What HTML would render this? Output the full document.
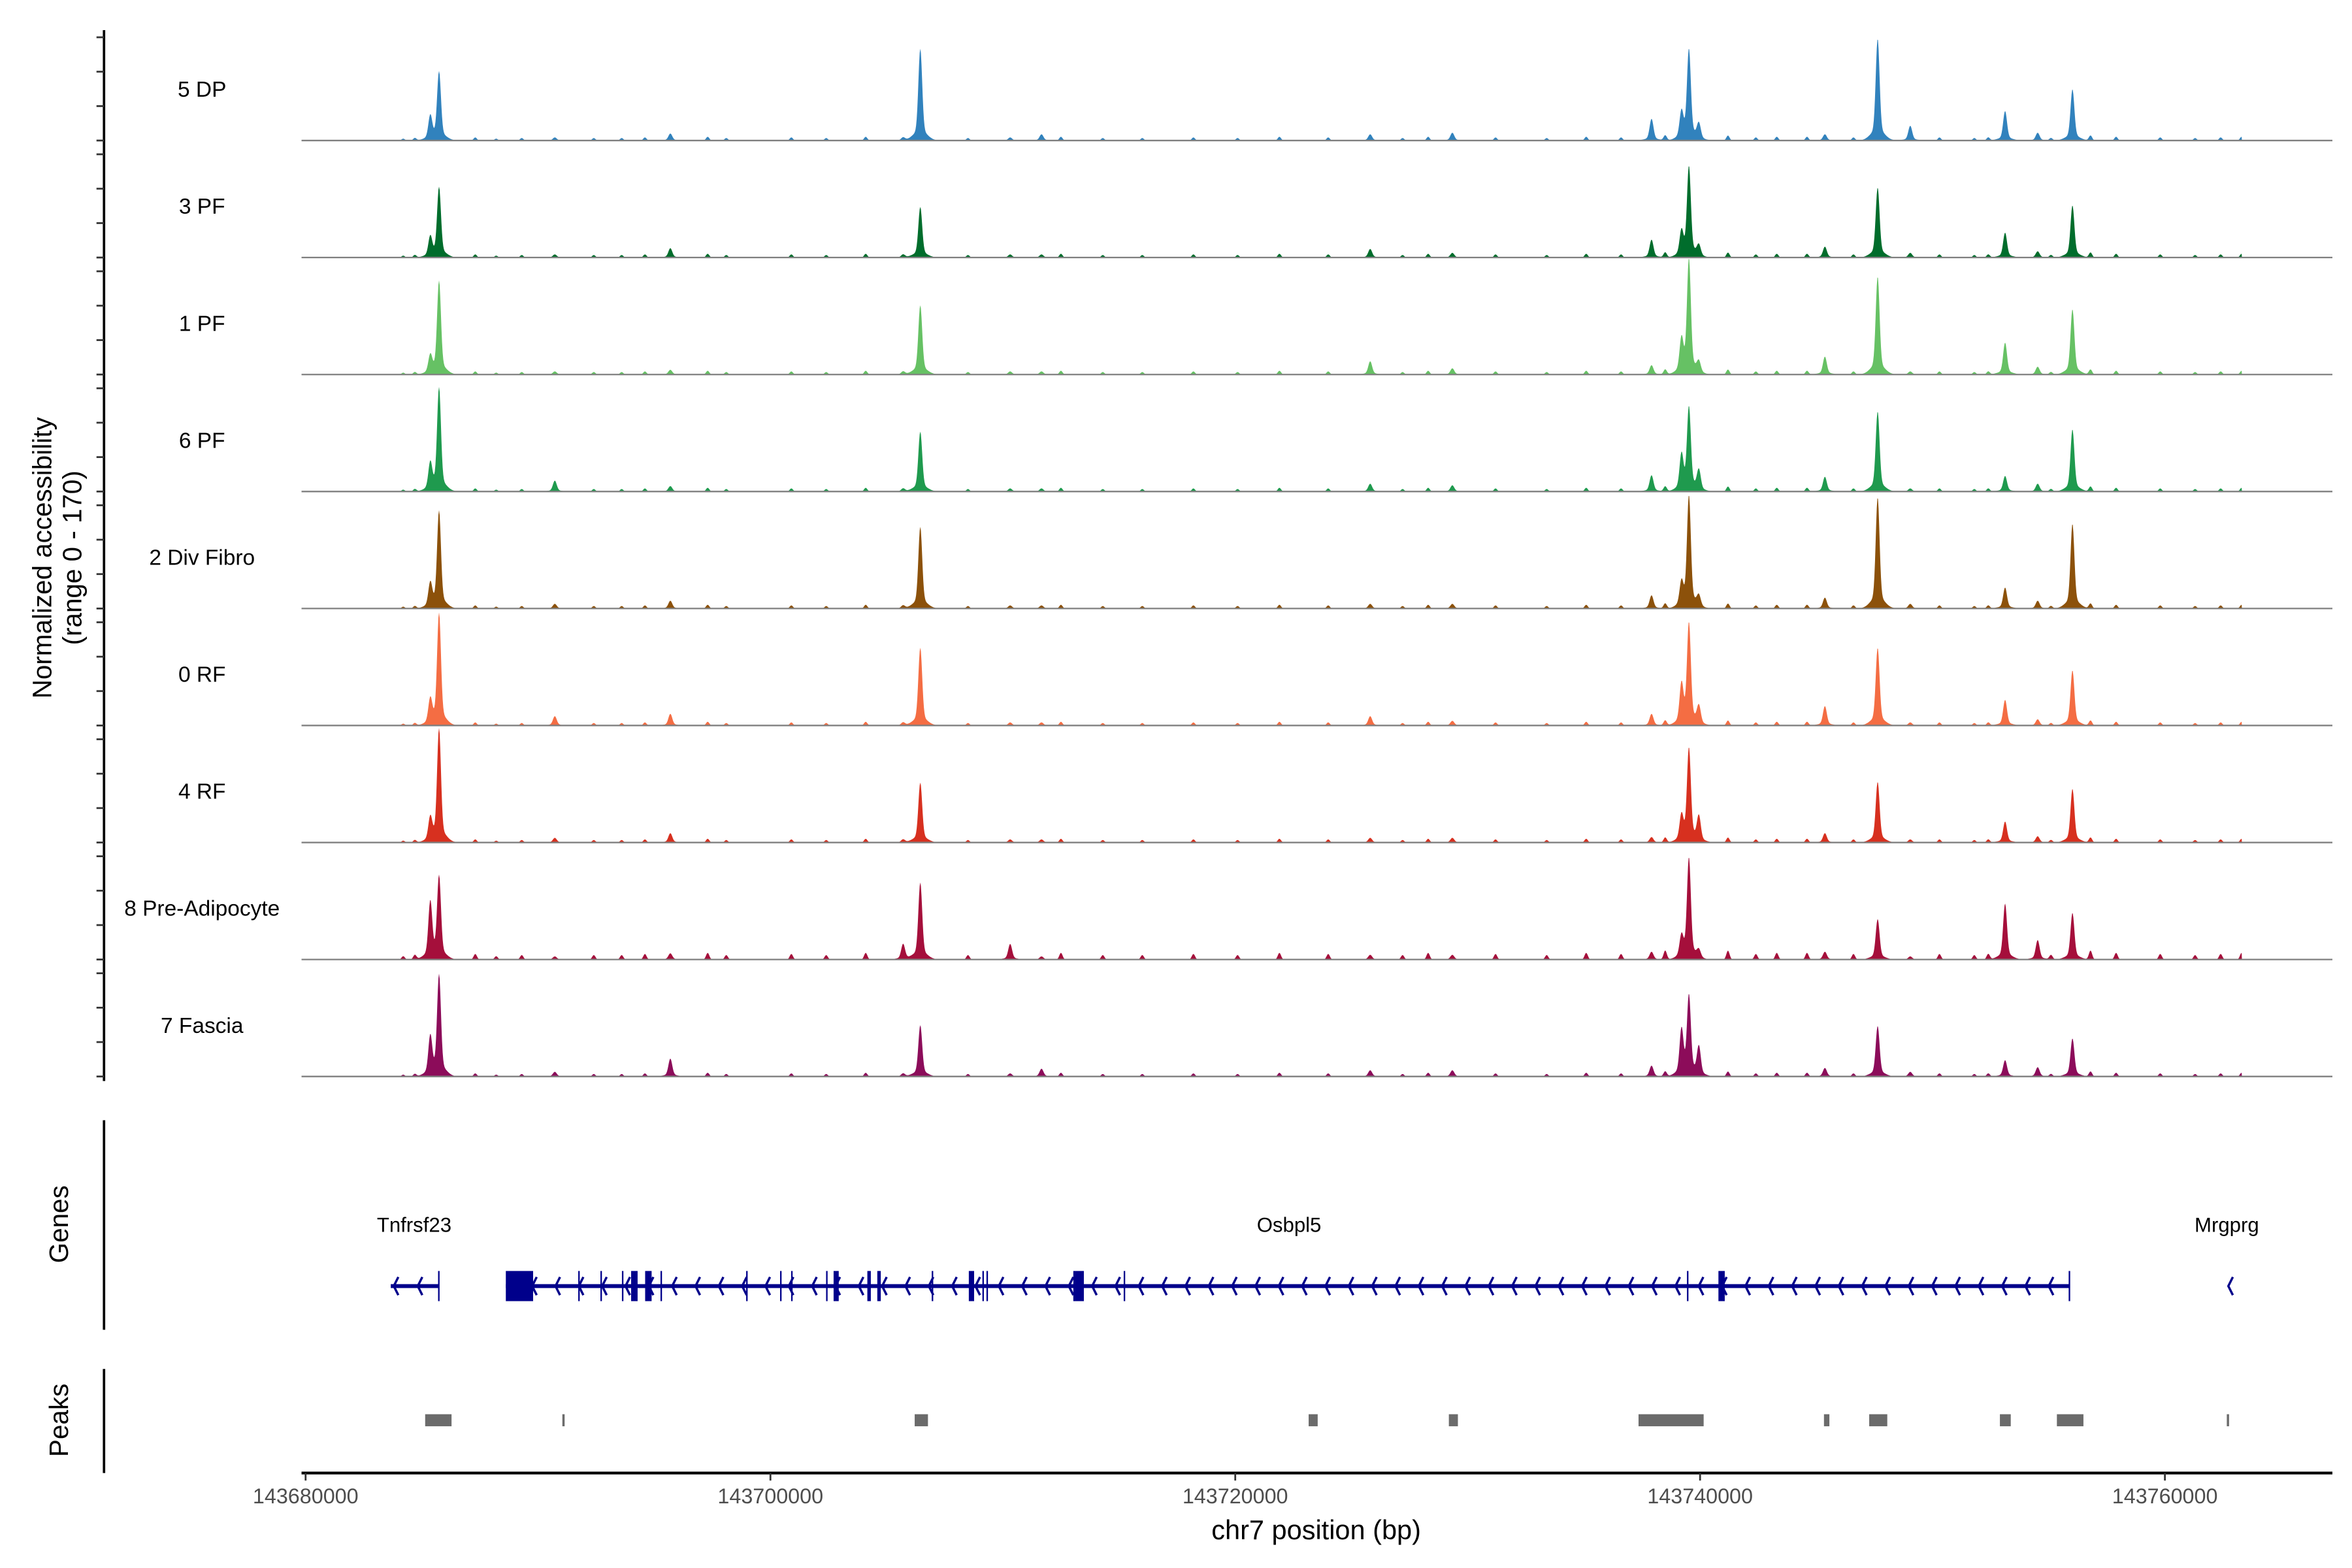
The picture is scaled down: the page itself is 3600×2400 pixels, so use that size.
<!DOCTYPE html>
<html><head><meta charset="utf-8"><style>
html,body{margin:0;padding:0;background:#fff;}
svg{display:block;font-family:"Liberation Sans",Arial,sans-serif;}
</style></head><body>
<svg id="chart" width="3600" height="2400" viewBox="0 0 1560 1040" xmlns="http://www.w3.org/2000/svg">
<rect width="1560" height="1040" fill="#fff"/>
<g id="tracks"></g>
<g id="leftaxis"></g>
<text transform="translate(34,370) rotate(-90)" text-anchor="middle" font-size="17.5">Normalized accessibility</text>
<text transform="translate(54,370) rotate(-90)" text-anchor="middle" font-size="17.5">(range 0 - 170)</text>
<line x1="69" y1="743" x2="69" y2="882" stroke="#000" stroke-width="1.6"/>
<text transform="translate(45,812) rotate(-90)" text-anchor="middle" font-size="17.5">Genes</text>
<line x1="69" y1="908" x2="69" y2="977" stroke="#000" stroke-width="1.6"/>
<text transform="translate(45,942) rotate(-90)" text-anchor="middle" font-size="17.5">Peaks</text>
<g id="genes"></g>
<g id="peaks"></g>
<g id="xaxis"></g>
<text x="873" y="1021" text-anchor="middle" font-size="18">chr7 position (bp)</text>
</svg>
<script>
const NS="http://www.w3.org/2000/svg";
// ---- data ----
const trackNames=["5 DP","3 PF","1 PF","6 PF","2 Div Fibro","0 RF","4 RF","8 Pre-Adipocyte","7 Fascia"];
const trackColors=["#3182bd","#006d2c","#66c164","#1f9a4e","#8c510a","#f46d43","#d7301f","#a50f3b","#8c0c5a"];
// peak centres (bp)
const peakPos=[143685365,143685741,143690723,143695693,143705709,143706448,143710315,143711664,143725806,143729341,143737912,143739203,143739520,143739948,143745371,143747641,143749043,143753124,143756023,143754526];
// peak heights per track (0-170)
const peakH=[
 [30,88,4,9,4,118,4,8,8,10,28,34,116,20,8,131,19,38,66,10],
 [25,90,4,12,4,65,4,4,11,6,23,31,116,14,14,90,6,32,67,8],
 [22,120,4,6,4,89,4,4,17,8,12,42,147,14,23,126,4,41,84,10],
 [34,133,14,7,4,77,4,4,10,8,21,45,107,26,19,103,4,20,80,10],
 [30,125,6,10,4,105,4,4,6,6,17,30,144,14,14,143,6,27,109,10],
 [31,144,12,15,4,100,4,4,12,6,15,50,130,23,25,100,4,33,71,8],
 [29,146,6,12,4,77,4,4,6,6,7,32,120,32,12,78,4,27,69,8],
 [72,106,4,8,20,99,20,4,6,6,10,27,130,10,10,52,4,72,60,25],
 [49,130,6,23,4,66,4,10,8,8,14,58,102,37,11,65,6,21,49,12]
];
// small background bumps (bp) and heights
const bgPos=[143684200,143684700,143687300,143688200,143689300,143692400,143693600,143694600,143697300,143698100,143700900,143702400,143704100,143708500,143712500,143714300,143716000,143718200,143720100,143721900,143724000,143727200,143728300,143731200,143733400,143735100,143736600,143738500,143741200,143742400,143743300,143744600,143746600,143750300,143751800,143752400,143755100,143756800,143757900,143759800,143761300,143762400,143763300,143763900];
const bgH=[3,4,5,3,4,4,4,5,6,4,5,4,6,4,6,4,4,5,4,6,5,4,6,5,4,6,5,8,8,5,6,6,5,5,4,5,4,8,6,5,4,5,6,5];
const geneNames=["Tnfrsf23","Osbpl5","Mrgprg"];
const geneStart=[143683665,143688615,143762600];
const geneEnd=[143685728,143755878,143762730];
const geneLabelPos=[143684671,143722315,143762664];
const exonStart=[143685700,143688615,143691730,143692685,143693610,143694006,143694609,143695270,143698955,143700415,143700890,143702395,143702718,143704170,143704598,143706940,143708536,143709120,143709295,143713032,143715200,143739435,143740790,143755860];
const exonEnd=[143685760,143689789,143691770,143692720,143693650,143694285,143694888,143695310,143698995,143700455,143700930,143702435,143702939,143704320,143704748,143706980,143708764,143709160,143709335,143713486,143715240,143739475,143741062,143755900];
const peakStart=[143685144,143691047,143706207,143723158,143729191,143737352,143745331,143747277,143752901,143755353,143762664];
const peakEnd=[143686279,143691145,143706778,143723547,143729580,143740154,143745564,143748055,143753368,143756495,143762761];
const xTicks=[143680000,143700000,143720000,143740000,143760000];
// ---- scales ----
const X0=143680000, PX0=202.7, PXPER=308.3/20000;
const xs=v=>PX0+(v-X0)*PXPER;
const trackTop=15.6, trackH=77.6;
const ys=(i,v)=>trackTop+(i+1)*trackH-v/170*trackH;
function mk(tag,attrs,parent){const e=document.createElementNS(NS,tag);for(const k in attrs)e.setAttribute(k,attrs[k]);parent.appendChild(e);return e;}
// ---- tracks ----
const tg=document.getElementById("tracks");
for(let i=0;i<trackNames.length;i++){
  const base=ys(i,0);
  let d=`M200,${base}`;
  for(let px=200;px<=1487;px+=0.4){
    const bp=X0+(px-PX0)/PXPER;
    let v=0;
    for(let k=0;k<peakPos.length;k++){const s=80;const z=(bp-peakPos[k])/s;v+=peakH[i][k]*Math.exp(-z*z/2);}
    for(let k=0;k<peakPos.length;k++){const s=280;const z=(bp-peakPos[k])/s;v+=peakH[i][k]*0.13*Math.exp(-z*z/2);}
    for(let k=0;k<bgPos.length;k++){const s=70;const z=(bp-bgPos[k])/s;v+=bgH[k]*(i===7?1.6:0.9)*Math.exp(-z*z/2);}
    d+=`L${px.toFixed(1)},${ys(i,Math.min(v,170)).toFixed(2)}`;
  }
  d+=`L1487,${base}Z`;
  const p=mk("path",{d:d,fill:trackColors[i]},tg);
  
  
  const bl=mk("line",{x1:200,x2:1547,y1:base,y2:base,stroke:"#7f7f7f","stroke-width":1},tg);
  
  
  const t=mk("text",{x:134,y:base-29,"text-anchor":"middle","font-size":14.5},tg);
  
  
  t.textContent=trackNames[i];
}
// ---- left axis ----
const la=document.getElementById("leftaxis");
mk("line",{x1:69,x2:69,y1:20,y2:717,stroke:"#000","stroke-width":1.6},la);
for(let i=0;i<trackNames.length;i++){
  for(const v of [0,50,100,150]){
    const y=ys(i,v);
    if(y<20)continue;
    const tk=mk("line",{x1:64,x2:69,y1:y,y2:y,stroke:"#333","stroke-width":1.2},la);
    
    
  }
}
// ---- genes ----
const gg=document.getElementById("genes");
const GY=853;
for(let g=0;g<geneNames.length;g++){
  const x1=xs(geneStart[g]),x2=xs(geneEnd[g]);
  if(x2-x1>3){const l=mk("line",{x1:x1,x2:x2,y1:GY,y2:GY,stroke:"#00008b","stroke-width":2.6},gg);
    
    }
  let d="";
  const n=Math.max(1,Math.round((x2-x1)/15.5));
  for(let k=0;k<n;k++){const ax=x1+2+k*(x2-x1)/n;d+=`M${ax+3},${GY-6}L${ax},${GY}L${ax+3},${GY+6}`;}
  const ar=mk("path",{d:d,fill:"none",stroke:"#00008b","stroke-width":1.5},gg);
  
  
  const t=mk("text",{x:xs(geneLabelPos[g]),y:817,"text-anchor":"middle","font-size":13.5},gg);
  
  
  t.textContent=geneNames[g];
}
for(let k=0;k<exonStart.length;k++){
  const a=xs(exonStart[k]),b=xs(exonEnd[k]);
  const r=mk("rect",{x:a,y:843,width:Math.max(b-a,1),height:20,fill:"#00008b"},gg);
  
  
}
// ---- peaks ----
const pg=document.getElementById("peaks");
for(let k=0;k<peakStart.length;k++){
  const a=xs(peakStart[k]),b=xs(peakEnd[k]);
  const r=mk("rect",{x:a,y:938,width:Math.max(b-a,1.5),height:8,fill:"#6b6b6b"},pg);
  
  
}
// ---- x axis ----
const xa=document.getElementById("xaxis");
mk("line",{x1:200,x2:1547,y1:977,y2:977,stroke:"#000","stroke-width":1.8},xa);
for(const v of xTicks){
  const x=xs(v);
  const tk=mk("line",{x1:x,x2:x,y1:977,y2:982,stroke:"#333","stroke-width":1.2},xa);
  
  
  const t=mk("text",{x:x,y:997,"text-anchor":"middle","font-size":14,fill:"#4d4d4d"},xa);
  
  
  t.textContent=String(v);
}
</script>
</body></html>
